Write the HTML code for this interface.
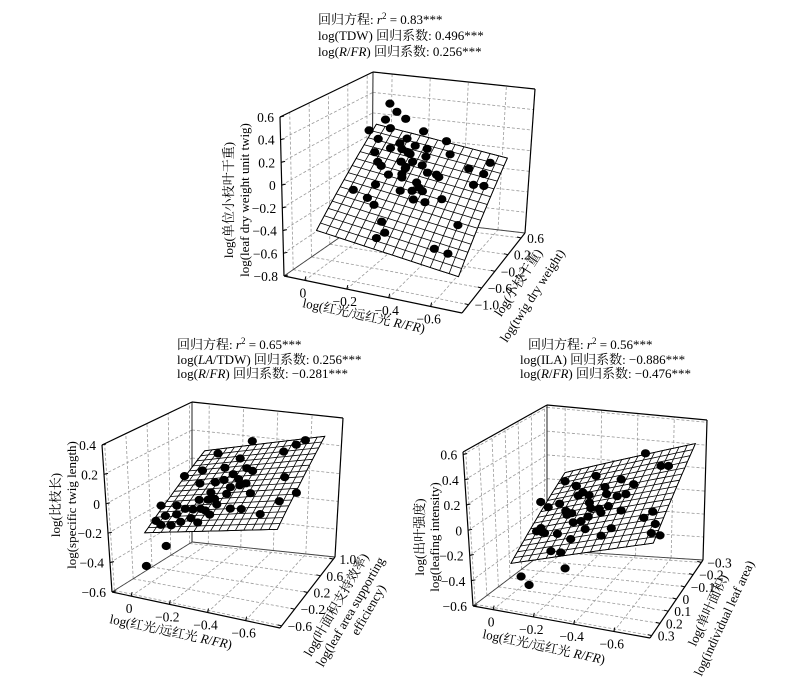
<!DOCTYPE html>
<html><head><meta charset="utf-8">
<style>
html,body{margin:0;padding:0;background:#fff;}
svg{display:block;font-family:"Liberation Serif","Noto Serif CJK SC",serif;}
.t{font-size:13px;fill:#000;}
.tk{font-size:13.5px;fill:#000;}
</style></head>
<body>
<svg id="fig" width="800" height="691" viewBox="0 0 800 691" xmlns="http://www.w3.org/2000/svg">
<rect x="0" y="0" width="800" height="691" fill="#fff"/>
<!-- top chart annotations -->
<g class="t">
<text x="318" y="24">回归方程: <tspan font-style="italic">r</tspan><tspan dy="-5" font-size="9">2</tspan><tspan dy="5"> = 0.83***</tspan></text>
<text x="318" y="40">log(TDW) 回归系数: 0.496***</text>
<text x="318" y="56">log(<tspan font-style="italic">R</tspan>/<tspan font-style="italic">FR</tspan>) 回归系数: 0.256***</text>
</g>
<text class="t" transform="translate(233,200) rotate(-90)" text-anchor="middle">log(单位小枝叶干重)</text>
<text class="t" transform="translate(249,200) rotate(-90)" text-anchor="middle">log(leaf dry weight unit twig)</text>
<text class="t" transform="translate(363,320) rotate(12)" text-anchor="middle">log(红光/远红光 <tspan font-style="italic">R</tspan>/<tspan font-style="italic">FR</tspan>)</text>
<text class="t" transform="translate(522,285) rotate(-57)" text-anchor="middle">log(小枝干重)</text>
<text class="t" transform="translate(536,298) rotate(-57)" text-anchor="middle">log(twig dry weight)</text>
<!-- bottom-left annotations -->
<g class="t">
<text x="177" y="349">回归方程: <tspan font-style="italic">r</tspan><tspan dy="-5" font-size="9">2</tspan><tspan dy="5"> = 0.65***</tspan></text>
<text x="177" y="364">log(<tspan font-style="italic">LA</tspan>/TDW) 回归系数: 0.256***</text>
<text x="177" y="378">log(<tspan font-style="italic">R</tspan>/<tspan font-style="italic">FR</tspan>) 回归系数: −0.281***</text>
</g>
<text class="t" transform="translate(60,505) rotate(-90)" text-anchor="middle">log(比枝长)</text>
<text class="t" transform="translate(76,505) rotate(-90)" text-anchor="middle">log(specific twig length)</text>
<text class="t" transform="translate(170,636) rotate(12)" text-anchor="middle">log(红光/远红光 <tspan font-style="italic">R</tspan>/<tspan font-style="italic">FR</tspan>)</text>
<text class="t" transform="translate(340,607) rotate(-60)" text-anchor="middle">log(叶面积支持效率)</text>
<text class="t" transform="translate(354,614) rotate(-60)" text-anchor="middle">log(leaf area supporting</text>
<text class="t" transform="translate(372,612) rotate(-60)" text-anchor="middle">efficiency)</text>
<!-- bottom-right annotations -->
<g class="t">
<text x="528" y="349">回归方程: <tspan font-style="italic">r</tspan><tspan dy="-5" font-size="9">2</tspan><tspan dy="5"> = 0.56***</tspan></text>
<text x="520" y="364">log(ILA) 回归系数: −0.886***</text>
<text x="520" y="378">log(<tspan font-style="italic">R</tspan>/<tspan font-style="italic">FR</tspan>) 回归系数: −0.476***</text>
</g>
<text class="t" transform="translate(424,537) rotate(-90)" text-anchor="middle">log(出叶强度)</text>
<text class="t" transform="translate(439,537) rotate(-90)" text-anchor="middle">log(leafing intensity)</text>
<text class="t" transform="translate(543,651) rotate(12)" text-anchor="middle">log(红光/远红光 <tspan font-style="italic">R</tspan>/<tspan font-style="italic">FR</tspan>)</text>
<text class="t" transform="translate(712,612) rotate(-65)" text-anchor="middle">log(单叶面积)</text>
<text class="t" transform="translate(728,620) rotate(-65)" text-anchor="middle">log(individual leaf area)</text>
</svg>
<script>
// ---- Top chart data ----
const topRFR = [-0.17,-0.19,-0.16,-0.23,-0.18,-0.06,-0.33,-0.26,-0.09,-0.22,-0.31,-0.44,-0.10,-0.22,-0.36,-0.27,-0.24,-0.12,-0.47,-0.34,-0.29,-0.21,-0.12,-0.26,-0.32,-0.57,-0.67,-0.17,-0.23,-0.36,-0.42,-0.22,-0.31,-0.41,-0.65,0.02,-0.08,-0.33,-0.59,-0.65,-0.21,-0.29,-0.05,-0.32,-0.10,-0.28,-0.35,-0.44,-0.12,-0.53,-0.10,-0.13,-0.41,-0.47,-0.23,-0.16];
const topTDW = [-0.05,0.02,-0.1,0.04,-0.08,-0.02,0.0,-0.06,0.05,-0.04,-0.1,0.03,-0.07,0.01,-0.05,-0.03,0.06,-0.09,-0.02,0.02,-0.06,0.04,-0.01,-0.08,0.03,-0.04,0.0,-0.07,0.05,-0.03,-0.1,0.02,-0.05,0.01,-0.06,-0.02,0.04,-0.09,0.0,-0.04,0.03,-0.06,-0.01,0.05,-0.08,0.02,-0.03,-0.05,0.01,-0.07,-0.02,0.04,-0.06,0.0,-0.03,0.02];
const topLeafDW = [0.55,0.46,0.41,0.40,0.33,0.26,0.32,0.25,0.17,0.19,0.21,0.25,0.08,0.12,0.18,0.10,0.08,0.00,0.15,0.08,0.04,-0.01,-0.06,-0.01,-0.01,0.05,0.12,-0.11,-0.07,-0.05,-0.03,-0.15,-0.15,-0.09,0.03,-0.32,-0.26,-0.18,-0.11,-0.09,-0.28,-0.23,-0.38,-0.26,-0.41,-0.34,-0.33,-0.27,-0.59,-0.48,-0.74,-0.70,-0.74,-0.79,-0.10,0.11];
const topCoef = [-0.18, 0.256, 0.496]; // intercept, R/FR, TDW
const topXTicks = [0,-0.2,-0.4,-0.6];
const topYTicks = [-1.0,-0.6,-0.2,0.2,0.6];
const topZTicks = [-0.8,-0.6,-0.4,-0.2,0,0.2,0.4,0.6];
// ---- Bottom-left chart data ----
const leftRFR = [-0.44,-0.25,-0.59,-0.64,-0.52,-0.38,-0.06,-0.18,-0.29,-0.34,-0.40,-0.45,-0.15,-0.24,-0.30,-0.36,-0.22,-0.32,-0.36,0.06,-0.02,-0.08,-0.15,-0.19,-0.24,-0.43,-0.53,-0.60,-0.60,-0.15,-0.25,-0.32,-0.39,0.10,0.04,-0.01,-0.05,-0.10,-0.15,-0.20,-0.49,0.07,0.02,0.04,0.04,-0.11,-0.19,-0.30,-0.41];
const leftLATDW = [0.29,0.31,0.71,0.71,0.71,0.27,0.33,0.25,0.30,0.28,0.34,0.26,0.31,0.29,0.24,0.32,0.27,0.30,0.35,0.28,0.31,0.26,0.29,0.33,0.27,0.30,0.71,0.71,0.25,0.32,0.28,0.30,0.26,0.31,0.29,0.34,0.27,0.30,0.25,0.32,0.28,0.30,0.33,0.29,-0.14,0.31,0.26,0.30,0.28];
const leftSTL = [0.37,0.24,0.27,0.31,0.21,0.24,0.04,0.12,0.15,0.12,0.16,0.17,0.01,0.04,0.08,0.08,-0.03,0.02,0.03,-0.18,-0.17,-0.17,-0.10,-0.10,-0.07,0.00,0.03,-0.07,-0.01,-0.17,-0.11,-0.13,-0.11,-0.30,-0.25,-0.24,-0.27,-0.24,-0.25,-0.20,-0.13,-0.32,-0.32,-0.46,-0.51,-0.18,-0.16,-0.03,0.07];
const leftCoef = [-0.18, -0.281, 0.256];
const leftXTicks = [0,-0.2,-0.4,-0.6];
const leftYTicks = [-0.6,-0.2,0.2,0.6,1.0];
const leftZTicks = [-0.6,-0.4,-0.2,0,0.2,0.4];
// ---- Bottom-right chart data ----
const rightRFR = [-0.58,-0.67,-0.69,-0.17,-0.32,-0.24,-0.44,-0.52,-0.06,-0.21,-0.14,-0.25,-0.30,-0.35,-0.38,-0.45,-0.47,-0.08,-0.16,-0.22,-0.28,-0.34,-0.40,-0.16,-0.21,-0.24,-0.30,-0.35,-0.44,-0.63,-0.57,-0.64,-0.01,-0.03,-0.07,-0.12,-0.25,-0.41,-0.61,-0.67,-0.19,-0.34,-0.09,-0.13,-0.17,-0.02,-0.06,-0.29,-0.22,-0.04];
const rightILA = [-0.06,-0.04,-0.08,-0.05,-0.07,-0.03,-0.09,-0.06,-0.02,-0.08,-0.05,-0.07,-0.04,-0.10,-0.06,-0.03,-0.08,-0.05,-0.07,-0.02,-0.09,-0.06,-0.04,-0.08,-0.05,-0.07,-0.03,-0.06,-0.09,-0.04,-0.07,-0.05,-0.06,-0.08,-0.03,-0.06,-0.09,-0.05,-0.07,-0.04,-0.06,-0.08,-0.05,-0.07,-0.04,0.10,0.10,-0.06,-0.08,-0.05];
const rightLI = [0.52,0.45,0.42,0.21,0.27,0.20,0.25,0.25,0.04,0.16,0.02,0.12,0.13,0.16,0.14,0.16,0.14,-0.02,-0.05,-0.02,-0.02,0.01,0.06,-0.09,-0.12,-0.12,-0.04,-0.02,-0.01,0.06,-0.03,-0.05,-0.24,-0.26,-0.22,-0.24,-0.20,-0.13,-0.15,-0.13,-0.27,-0.23,-0.38,-0.40,-0.50,-0.49,-0.55,0.05,0.08,-0.20];
const rightCoef = [-0.22, -0.476, -0.886];
const rightXTicks = [0,-0.2,-0.4,-0.6];
const rightYTicks = [0.3,0.2,0.1,0,-0.1,-0.2,-0.3];
const rightZTicks = [-0.6,-0.4,-0.2,0,0.2,0.4,0.6];

const NS = "http://www.w3.org/2000/svg";
const svg = document.getElementById('fig');
function el(tag, parent){ const e = document.createElementNS(NS, tag); parent.appendChild(e); return e; }
function fmt(v){ if (Math.abs(v) < 1e-9) return "0"; return (v < 0 ? "\u2212" : "") + Math.abs(v).toFixed(1); }

function drawChart(cfg){
  const g = el('g', svg);
  
  
  const B = cfg.bot, T = cfg.top;
  function bil(Q, a, b){
    return [Q[0][0]*(1-a)*(1-b)+Q[1][0]*a*(1-b)+Q[2][0]*a*b+Q[3][0]*(1-a)*b,
            Q[0][1]*(1-a)*(1-b)+Q[1][1]*a*(1-b)+Q[2][1]*a*b+Q[3][1]*(1-a)*b];
  }
  function P(a,b,c){ const p = bil(B,a,b), q = bil(T,a,b); return [p[0]+(q[0]-p[0])*c, p[1]+(q[1]-p[1])*c]; }
  const ua = u => (u - cfg.uR[0])/(cfg.uR[1]-cfg.uR[0]);
  const vb = v => (v - cfg.vR[0])/(cfg.vR[1]-cfg.vR[0]);
  const zc = z => (z - cfg.zR[0])/(cfg.zR[1]-cfg.zR[0]);
  const proj = (u,v,z) => P(ua(u), vb(v), zc(z));
  function line(p, q, color, w, dash, parent){
    const l = el('line', parent);
    l.setAttribute('x1', p[0].toFixed(1)); l.setAttribute('y1', p[1].toFixed(1));
    l.setAttribute('x2', q[0].toFixed(1)); l.setAttribute('y2', q[1].toFixed(1));
    l.setAttribute('stroke', color); l.setAttribute('stroke-width', w);
    if (dash) l.setAttribute('stroke-dasharray', dash);
    return l;
  }
  // grid
  const grid = el('g', g);
  
  
  const gc = '#9a9a9a', gd = '3,2';
  cfg.zT.forEach(z => { const c = zc(z); line(P(0,0,c), P(0,1,c), gc, 0.8, gd, grid); line(P(0,1,c), P(1,1,c), gc, 0.8, gd, grid); });
  cfg.yT.forEach(v => { const b = vb(v); line(P(0,b,0), P(0,b,1), gc, 0.8, gd, grid); line(P(0,b,0), P(1,b,0), gc, 0.8, gd, grid); });
  cfg.xT.forEach(u => { const a = ua(u); line(P(a,1,0), P(a,1,1), gc, 0.8, gd, grid); line(P(a,0,0), P(a,1,0), gc, 0.8, gd, grid); });
  // box
  const box = el('g', g);
  
  
  line(P(0,0,0), P(0,1,0), '#444', 0.9, null, box);
  line(P(0,1,0), P(1,1,0), '#444', 0.9, null, box);
  line(P(0,1,0), P(0,1,1), '#222', 1, null, box);
  line(P(0,0,0), P(0,0,1), '#000', 1.2, null, box);
  line(P(0,0,1), P(0,1,1), '#000', 1.2, null, box);
  line(P(0,1,1), P(1,1,1), '#000', 1.2, null, box);
  line(P(1,1,1), P(1,1,0), '#000', 1.2, null, box);
  line(P(0,0,0), P(1,0,0), '#000', 1.2, null, box);
  line(P(1,0,0), P(1,1,0), '#000', 1.2, null, box);
  // tick labels
  const labs = el('g', g);
  
  
  function txt(s, p, anchor){
    const t = el('text', labs);
    t.setAttribute('x', p[0].toFixed(1)); t.setAttribute('y', p[1].toFixed(1));
    t.setAttribute('text-anchor', anchor); t.setAttribute('class', 'tk');
    t.textContent = s;
    return t;
  }
  cfg.zT.forEach(z => { const p = P(0,0,zc(z)); line(p, [p[0]+4,p[1]-1], '#000', 1, null, labs); const t = txt(fmt(z), [p[0]-6, p[1]+5], 'end');   });
  cfg.xT.forEach(u => { const p = P(ua(u),0,0); line(p, [p[0]+1,p[1]-4], '#000', 1, null, labs); const t = txt(fmt(u), [p[0]-2, p[1]+17], 'middle');   });
  cfg.yT.forEach(v => { const p = P(1,vb(v),0); line(p, [p[0]-4,p[1]-1], '#000', 1, null, labs); const t = txt(fmt(v), [p[0]+6, p[1]+5], 'start');   });
  // regression surface
  const surf = el('g', g);
  
  
  const co = cfg.coef, N = cfg.div;
  const zf = (u,v) => co[0] + co[1]*u + co[2]*v;
  const U0 = cfg.pu[0], U1 = cfg.pu[1], V0 = cfg.pv[0], V1 = cfg.pv[1];
  const uu = i => U0 + (U1-U0)*i/N, vv = j => V0 + (V1-V0)*j/N;
  let outline = [];
  for (let i=0;i<=N;i++) outline.push(proj(uu(i),V0,zf(uu(i),V0)));
  for (let j=0;j<=N;j++) outline.push(proj(U1,vv(j),zf(U1,vv(j))));
  for (let i=N;i>=0;i--) outline.push(proj(uu(i),V1,zf(uu(i),V1)));
  for (let j=N;j>=0;j--) outline.push(proj(U0,vv(j),zf(U0,vv(j))));
  const poly = el('polygon', surf);
  poly.setAttribute('points', outline.map(p => p[0].toFixed(1)+','+p[1].toFixed(1)).join(' '));
  poly.setAttribute('fill', '#fff'); poly.setAttribute('stroke', '#000'); poly.setAttribute('stroke-width', '0.9');
  for (let i=0;i<=N;i++){
    const pts = []; for (let j=0;j<=N;j++) pts.push(proj(uu(i),vv(j),zf(uu(i),vv(j))));
    const pl = el('polyline', surf);
    pl.setAttribute('points', pts.map(p => p[0].toFixed(1)+','+p[1].toFixed(1)).join(' '));
    pl.setAttribute('fill', 'none'); pl.setAttribute('stroke', '#000'); pl.setAttribute('stroke-width', '0.8');
  }
  for (let j=0;j<=N;j++){
    const pts = []; for (let i=0;i<=N;i++) pts.push(proj(uu(i),vv(j),zf(uu(i),vv(j))));
    const pl = el('polyline', surf);
    pl.setAttribute('points', pts.map(p => p[0].toFixed(1)+','+p[1].toFixed(1)).join(' '));
    pl.setAttribute('fill', 'none'); pl.setAttribute('stroke', '#000'); pl.setAttribute('stroke-width', '0.8');
  }
  // points
  const pg = el('g', g);
  
  
  for (let k=0;k<cfg.xs.length;k++){
    const p = proj(cfg.xs[k], cfg.ys[k], cfg.zs[k]);
    const e = el('ellipse', pg);
    
    
    e.setAttribute('cx', p[0].toFixed(1)); e.setAttribute('cy', p[1].toFixed(1));
    e.setAttribute('rx', '4.6'); e.setAttribute('ry', '4.1'); e.setAttribute('fill', '#000');
  }
}

drawChart({name:'top-chart',
  bot:[[284,276],[462,313],[525,233],[372,215]], top:[[280,117],[464,156],[535,89],[373,72]],
  uR:[0.1,-0.75], vR:[-1.2,0.72], zR:[-0.8,0.6],
  xT:topXTicks, yT:topYTicks, zT:topZTicks,
  coef:topCoef, pu:[0.05,-0.65], pv:[-0.7,0.6], div:15,
  xs:topRFR, ys:topTDW, zs:topLeafDW});
drawChart({name:'left-chart',
  bot:[[112,592],[280,628],[335,557],[192,542]], top:[[102,445],[282,482],[343,418],[192,402]],
  uR:[0.1,-0.78], vR:[-0.65,1.05], zR:[-0.6,0.4],
  xT:leftXTicks, yT:leftYTicks, zT:leftZTicks,
  coef:leftCoef, pu:[0.01,-0.69], pv:[-0.26,1.0], div:16,
  xs:leftRFR, ys:leftLATDW, zs:leftSTL});
drawChart({name:'right-chart',
  bot:[[473,606],[650,638],[703,560],[547,550]], top:[[463,452],[652,485],[707,420],[547,405]],
  uR:[0.1,-0.78], vR:[0.32,-0.32], zR:[-0.6,0.62],
  xT:rightXTicks, yT:rightYTicks, zT:rightZTicks,
  coef:rightCoef, pu:[0,-0.72], pv:[0.15,-0.32], div:16,
  xs:rightRFR, ys:rightILA, zs:rightLI});
</script>
</body></html>
